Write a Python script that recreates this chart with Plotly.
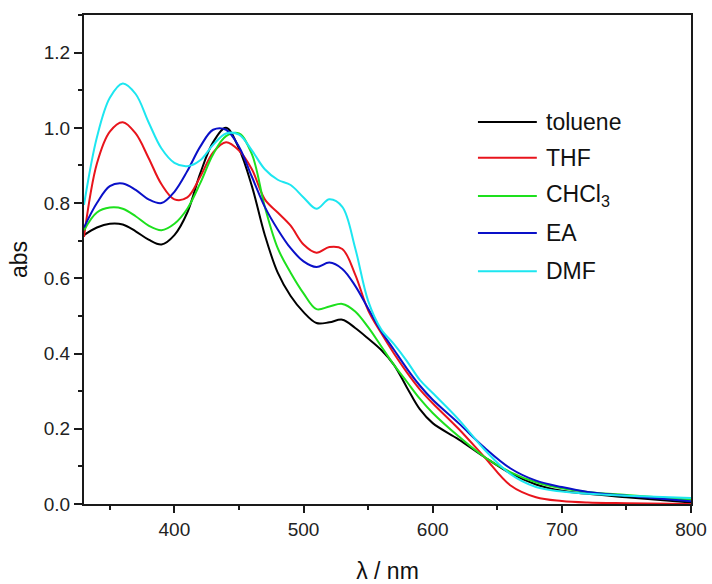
import plotly.graph_objects as go

wavelength = [330, 340, 350, 360, 370, 380, 390, 400, 410, 420, 430, 440, 450, 460, 470, 480, 490,
              500, 510, 520, 530, 540, 550, 560, 570, 580, 590, 600, 620, 640, 660, 680, 700, 720,
              750, 800]

toluene = [0.715, 0.735, 0.745, 0.743, 0.725, 0.703, 0.690, 0.715, 0.775, 0.879, 0.962, 1.000, 0.945,
           0.845, 0.715, 0.615, 0.553, 0.510, 0.481, 0.483, 0.490, 0.468, 0.440, 0.410, 0.370,
           0.310, 0.252, 0.215, 0.172, 0.125, 0.082, 0.052, 0.035, 0.027, 0.018, 0.004]

thf = [0.710, 0.905, 0.990, 1.015, 0.985, 0.920, 0.850, 0.810, 0.815, 0.870, 0.935, 0.962, 0.940,
       0.890, 0.810, 0.775, 0.740, 0.690, 0.668, 0.683, 0.678, 0.610, 0.515, 0.455, 0.400,
       0.350, 0.305, 0.268, 0.200, 0.125, 0.050, 0.018, 0.008, 0.004, 0.002, 0.000]

chcl3 = [0.728, 0.775, 0.788, 0.785, 0.765, 0.740, 0.728, 0.745, 0.785, 0.853, 0.930, 0.978, 0.985,
         0.930, 0.790, 0.680, 0.615, 0.560, 0.518, 0.525, 0.532, 0.512, 0.470, 0.420, 0.370,
         0.325, 0.280, 0.242, 0.180, 0.125, 0.085, 0.058, 0.042, 0.032, 0.024, 0.011]

ea = [0.735, 0.800, 0.845, 0.852, 0.835, 0.810, 0.800, 0.830, 0.885, 0.950, 0.995, 0.995, 0.950,
      0.870, 0.790, 0.730, 0.680, 0.645, 0.630, 0.642, 0.625, 0.580, 0.520, 0.460, 0.410,
      0.360, 0.315, 0.277, 0.215, 0.150, 0.095, 0.062, 0.045, 0.032, 0.022, 0.007]

dmf = [0.795, 0.975, 1.080, 1.118, 1.090, 1.015, 0.945, 0.907, 0.898, 0.914, 0.955, 0.985, 0.982,
       0.940, 0.890, 0.862, 0.848, 0.815, 0.785, 0.810, 0.790, 0.680, 0.540, 0.465, 0.425,
       0.380, 0.330, 0.295, 0.225, 0.145, 0.080, 0.045, 0.033, 0.027, 0.022, 0.016]

series_names = ["toluene", "THF", "CHCl<sub>3</sub>", "EA", "DMF"]
series_values = [toluene, thf, chcl3, ea, dmf]
series_colors = ["#000000", "#e8141c", "#1de01d", "#0a10c8", "#1de6f0"]

x_ticks = [400, 500, 600, 700, 800]
y_ticks = [0.0, 0.2, 0.4, 0.6, 0.8, 1.0, 1.2]

FONT = "Liberation Sans, Arial, sans-serif"

fig = go.Figure()
for name, vals, col in zip(series_names, series_values, series_colors):
    fig.add_trace(go.Scatter(x=wavelength, y=vals, mode="lines", name=name,
                             line=dict(color=col, width=2, shape="spline", smoothing=1.0),
                             showlegend=False))

# custom legend (long line samples like the original)
leg_x0, leg_x1, leg_tx = 0.649, 0.746, 0.758
leg_y = [0.781, 0.708, 0.630, 0.554, 0.476]
for name, col, yy in zip(series_names, series_colors, leg_y):
    fig.add_shape(type="line", xref="paper", yref="paper", x0=leg_x0, x1=leg_x1, y0=yy, y1=yy,
                  line=dict(color=col, width=2))
    fig.add_annotation(xref="paper", yref="paper", x=leg_tx, y=yy, text=name, showarrow=False,
                       xanchor="left", yanchor="middle", font=dict(family=FONT, size=23, color="#111"))

axis_common = dict(showline=True, linecolor="#1a1a1a", linewidth=2, mirror=True,
                   ticks="outside", tickcolor="#1a1a1a", tickwidth=1.5, showgrid=False,
                   zeroline=False, automargin=False,
                   tickfont=dict(family=FONT, size=19, color="#222"))

fig.update_xaxes(range=[330, 800], tickvals=x_ticks, ticklen=7,
                 minor=dict(dtick=50, tick0=350, ticks="outside", ticklen=4, tickcolor="#1a1a1a", tickwidth=1.5),
                 title=dict(text="λ / nm", font=dict(family=FONT, size=23, color="#111"), standoff=24),
                 **axis_common)
fig.update_yaxes(range=[0, 1.3], tickvals=y_ticks, tickformat=".1f", ticklen=8,
                 minor=dict(dtick=0.1, tick0=0, ticks="outside", ticklen=4, tickcolor="#1a1a1a", tickwidth=1.5),
                 title=dict(text="abs", font=dict(family=FONT, size=23, color="#111"), standoff=10),
                 **axis_common)

fig.update_layout(width=712, height=584, margin=dict(l=84, r=21, t=15, b=80),
                  plot_bgcolor="white", paper_bgcolor="white")

# remove the browser's default page margin / scrollbars so the figure fills the window exactly
fig.write_html("out.html", config={"displayModeBar": False},
               post_script="document.body.style.margin='0';document.body.style.overflow='hidden';")
